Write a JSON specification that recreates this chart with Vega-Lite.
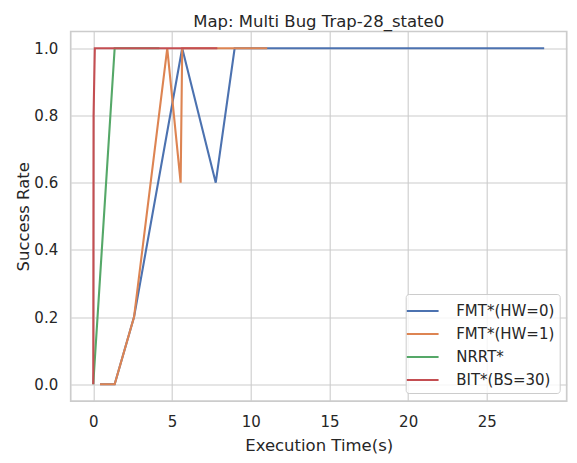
{
  "$schema": "https://vega.github.io/schema/vega-lite/v6.json",
  "width": 496,
  "height": 369.6,
  "autosize": {"type": "none"},
  "padding": {"left": 70.7, "top": 31.5, "right": 10.3, "bottom": 62},
  "background": "white",
  "title": {
    "text": "Map: Multi Bug Trap-28_state0",
    "fontSize": 16.5,
    "font": "DejaVu Sans",
    "fontWeight": "normal",
    "color": "#262626",
    "offset": 3,
    "baseline": "bottom",
    "dy": 18
  },
  "config": {
    "view": {"stroke": "#cccccc", "strokeWidth": 1.7},
    "font": "DejaVu Sans",
    "axis": {
      "domain": false,
      "ticks": false,
      "grid": true,
      "gridColor": "#cccccc",
      "gridWidth": 1.1,
      "labelFont": "DejaVu Sans",
      "labelFontSize": 15,
      "labelColor": "#262626",
      "labelPadding": 13,
      "titleFont": "DejaVu Sans",
      "titleFontSize": 16.5,
      "titleFontWeight": "normal",
      "titleColor": "#262626"
    },
    "legend": {
      "labelFont": "DejaVu Sans",
      "labelFontSize": 15,
      "labelColor": "#262626"
    }
  },
  "data": {
    "values": [
      {"method": "FMT*(HW=0)", "t": 0.43, "rate": 0.0},
      {"method": "FMT*(HW=0)", "t": 1.36, "rate": 0.0},
      {"method": "FMT*(HW=0)", "t": 2.59, "rate": 0.2},
      {"method": "FMT*(HW=0)", "t": 5.65, "rate": 1.0},
      {"method": "FMT*(HW=0)", "t": 7.78, "rate": 0.6},
      {"method": "FMT*(HW=0)", "t": 8.98, "rate": 1.0},
      {"method": "FMT*(HW=0)", "t": 28.64, "rate": 1.0},
      {"method": "FMT*(HW=1)", "t": 0.43, "rate": 0.0},
      {"method": "FMT*(HW=1)", "t": 1.36, "rate": 0.0},
      {"method": "FMT*(HW=1)", "t": 2.59, "rate": 0.2},
      {"method": "FMT*(HW=1)", "t": 4.7, "rate": 1.0},
      {"method": "FMT*(HW=1)", "t": 5.55, "rate": 0.6},
      {"method": "FMT*(HW=1)", "t": 5.65, "rate": 1.0},
      {"method": "FMT*(HW=1)", "t": 11.05, "rate": 1.0},
      {"method": "NRRT*", "t": 0.0, "rate": 0.0},
      {"method": "NRRT*", "t": 1.36, "rate": 1.0},
      {"method": "NRRT*", "t": 4.2, "rate": 1.0},
      {"method": "BIT*(BS=30)", "t": 0.0, "rate": 0.0},
      {"method": "BIT*(BS=30)", "t": 0.02, "rate": 0.8},
      {"method": "BIT*(BS=30)", "t": 0.1, "rate": 1.0},
      {"method": "BIT*(BS=30)", "t": 7.88, "rate": 1.0}
    ]
  },
  "mark": {"type": "line", "strokeWidth": 2.1},
  "encoding": {
    "x": {
      "field": "t",
      "type": "quantitative",
      "scale": {"domain": [-1.432, 30.07], "nice": false, "zero": false},
      "axis": {
        "values": [0, 5, 10, 15, 20, 25],
        "title": "Execution Time(s)",
        "titleY": 49,
        "titleBaseline": "alphabetic"
      }
    },
    "y": {
      "field": "rate",
      "type": "quantitative",
      "scale": {"domain": [-0.05, 1.05], "nice": false, "zero": false},
      "axis": {
        "values": [0, 0.2, 0.4, 0.6, 0.8, 1.0],
        "format": ".1f",
        "title": "Success Rate",
        "titleX": -47.7,
        "titleY": 184.8,
        "titleAlign": "center",
        "titleBaseline": "middle"
      }
    },
    "color": {
      "field": "method",
      "type": "nominal",
      "scale": {
        "domain": ["FMT*(HW=0)", "FMT*(HW=1)", "NRRT*", "BIT*(BS=30)"],
        "range": ["#4c72b0", "#dd8452", "#55a868", "#c44e52"]
      },
      "legend": {
        "title": null,
        "orient": "none",
        "legendX": 335,
        "legendY": 262.5,
        "symbolType": "M-1.45,0H1.45",
        "symbolSize": 480,
        "symbolStrokeWidth": 2.1,
        "labelOffset": 21,
        "strokeColor": "#cccccc",
        "fillColor": "rgba(255,255,255,0.8)",
        "cornerRadius": 3,
        "padding": 4.5,
        "rowPadding": 2
      }
    }
  }
}
